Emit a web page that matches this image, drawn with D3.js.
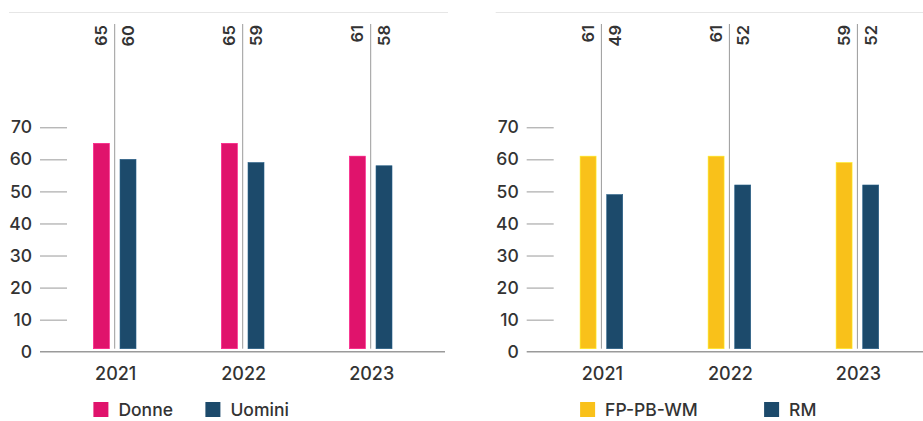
<!DOCTYPE html>
<html>
<head>
<meta charset="utf-8">
<script src="https://cdn.jsdelivr.net/npm/d3@7"></script>
<style>
  body { margin: 0; background: #fff; }
  svg { display: block; font-family: Inter, "DejaVu Sans", sans-serif; font-weight: 500; }
</style>
</head>
<body>
<div id="chart-container"></div>
<script>
const years = ["2021", "2022", "2023"];
const yTicks = [0, 10, 20, 30, 40, 50, 60, 70];

const genderSeries = ["Donne", "Uomini"];
const donne = [65, 65, 61];
const uomini = [60, 59, 58];

const networkSeries = ["FP-PB-WM", "RM"];
const fpPbWm = [61, 61, 59];
const rm = [49, 52, 52];

const width = 923;
const height = 421;

const svg = d3.select("#chart-container")
    .append("svg")
    .attr("width", width)
    .attr("height", height);

const y = d3.scaleLinear()
    .domain([0, 70])
    .range([351.7, 127.3]);

function drawChart(offsetX, series, values, colors, legendX, ruleEnd, axisEnd) {
    const g = svg.append("g")
        .attr("transform", `translate(${offsetX},0)`);

    const x = d3.scaleBand()
        .domain(years)
        .range([50.7, 434.7]);

    const inner = d3.scaleBand()
        .domain(series)
        .range([-21.3, 21.3])
        .paddingInner(0.4);

    // top rule
    g.append("line")
        .attr("x1", 9).attr("x2", ruleEnd)
        .attr("y1", 12.5).attr("y2", 12.5)
        .attr("stroke", "#e6e6e6")
        .attr("stroke-width", 1);

    // y axis ticks
    const yAxis = g.append("g")
        .attr("transform", "translate(67,0)")
        .call(d3.axisLeft(y).tickValues(yTicks).tickSize(27).tickPadding(8));
    yAxis.select(".domain").remove();
    yAxis.selectAll(".tick line")
        .attr("stroke", "#9a9a9a");
    yAxis.selectAll(".tick text")
        .attr("fill", "#333")
        .style("font-size", "17.5px")
        .style("font-family", "Inter, sans-serif");
    yAxis.select(".tick:first-of-type line").remove();

    // baseline
    g.append("line")
        .attr("x1", 40).attr("x2", axisEnd)
        .attr("y1", y(0)).attr("y2", y(0))
        .attr("stroke", "#9a9a9a")
        .attr("stroke-width", 1.5);

    const groups = g.selectAll(".year")
        .data(years)
        .enter()
        .append("g")
        .attr("class", "year")
        .attr("transform", d => `translate(${x(d) + x.bandwidth() / 2},0)`);

    // separator between the pair
    groups.append("line")
        .attr("x1", 0).attr("x2", 0)
        .attr("y1", 24).attr("y2", y(0) - 3)
        .attr("stroke", "#9a9a9a")
        .attr("stroke-width", 1);

    series.forEach((s, si) => {
        groups.append("rect")
            .attr("x", inner(s))
            .attr("width", inner.bandwidth())
            .attr("y", (d, i) => y(values[si][i]))
            .attr("height", (d, i) => y(0) - 3 - y(values[si][i]))
            .attr("fill", colors[si])
            .attr("stroke", d3.color(colors[si]).brighter(0.6))
            .attr("stroke-width", 0.6);

        groups.append("text")
            .attr("transform", `translate(${inner(s) + inner.bandwidth() / 2 + 6},25) rotate(-90)`)
            .attr("text-anchor", "end")
            .attr("fill", "#333")
            .style("font-size", "16.5px")
            .style("font-weight", 600)
            .text((d, i) => values[si][i]);
    });

    // year labels
    groups.append("text")
        .attr("x", 1)
        .attr("y", 380)
        .attr("text-anchor", "middle")
        .attr("fill", "#333")
        .style("font-size", "18px")
        .text(d => d);

    // legend
    const legend = g.selectAll(".legend")
        .data(series)
        .enter()
        .append("g")
        .attr("class", "legend")
        .attr("transform", (d, i) => `translate(${x(years[0]) + x.bandwidth() / 2 + inner(series[0]) + legendX[i]},402)`);

    legend.append("rect")
        .attr("width", 15)
        .attr("height", 15)
        .attr("fill", (d, i) => colors[i]);

    legend.append("text")
        .attr("x", 25)
        .attr("y", 14)
        .attr("fill", "#333")
        .style("font-size", "17.5px")
        .text(d => d);
}

drawChart(0, genderSeries, [donne, uomini], ["#e0136c", "#1c4a6b"], [0, 112], 448, 445);
drawChart(486.7, networkSeries, [fpPbWm, rm], ["#f9c11a", "#1c4a6b"], [0, 184], 460, 460);
</script>
</body>
</html>
